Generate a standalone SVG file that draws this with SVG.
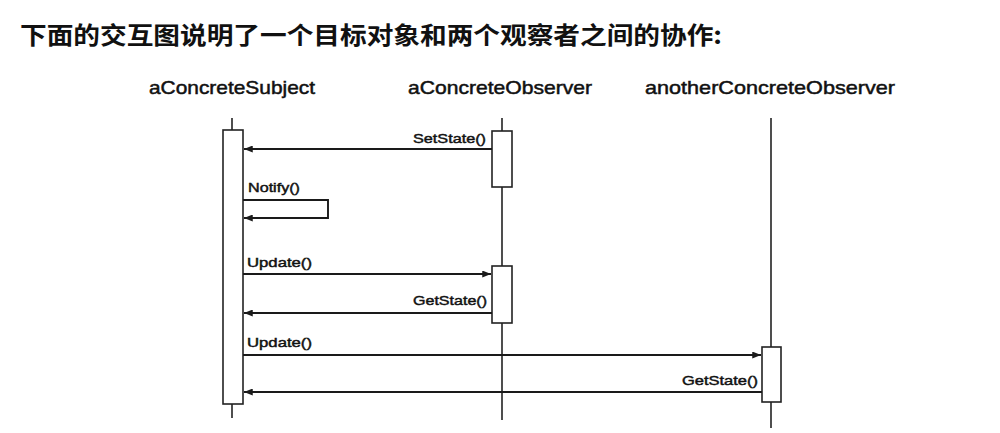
<svg xmlns="http://www.w3.org/2000/svg" width="1000" height="433" viewBox="0 0 1000 433">
<style>
.bg{fill:#fff}
.cn{font-family:"Noto Sans CJK SC","Liberation Sans",sans-serif;font-size:24px;font-weight:bold;fill:#111}
.hd{font-family:"Liberation Sans",Arial,sans-serif;font-size:19px;fill:#111;stroke:#111;stroke-width:0.5}
.lb{font-family:"Liberation Sans",Arial,sans-serif;font-size:13px;fill:#111;stroke:#111;stroke-width:0.45}
.life{stroke:#222;stroke-width:1.6;fill:none}
.act{stroke:#222;stroke-width:1.6;fill:#fff}
.msg{stroke:#1a1a1a;stroke-width:1.9;fill:none}
</style>
<defs>
<marker id="ah" viewBox="0 0 10 8" refX="10" refY="4" markerWidth="10" markerHeight="7" markerUnits="userSpaceOnUse" orient="auto">
<path d="M0,0 L10,4 L0,8 z" fill="#1a1a1a"/>
</marker>
</defs>
<rect class="bg" x="0" y="0" width="1000" height="433"/>
<text class="cn" x="20" y="44" textLength="702" lengthAdjust="spacingAndGlyphs">下面的交互图说明了一个目标对象和两个观察者之间的协作:</text>

<g id="subject">
<text class="hd" x="149" y="94" textLength="166" lengthAdjust="spacingAndGlyphs">aConcreteSubject</text>
<line class="life" x1="232" y1="118" x2="232" y2="418"/>
<rect class="act" x="223" y="130" width="20" height="274"/>
</g>

<g id="observer">
<text class="hd" x="408" y="94" textLength="184" lengthAdjust="spacingAndGlyphs">aConcreteObserver</text>
<line class="life" x1="502" y1="118" x2="502" y2="420"/>
<rect class="act" x="492" y="131" width="20" height="56"/>
<rect class="act" x="492" y="266" width="20" height="57"/>
</g>

<g id="anotherObserver">
<text class="hd" x="645" y="94" textLength="250" lengthAdjust="spacingAndGlyphs">anotherConcreteObserver</text>
<line class="life" x1="771" y1="118" x2="771" y2="428"/>
<rect class="act" x="762" y="347" width="19" height="55"/>
</g>

<g id="connectors">
<line class="msg" x1="492" y1="149" x2="244" y2="149" marker-end="url(#ah)"/>
<text class="lb" x="413" y="143" textLength="73" lengthAdjust="spacingAndGlyphs">SetState()</text>

<polyline class="msg" points="243,200 328,200 328,218 244,218" marker-end="url(#ah)"/>
<text class="lb" x="248" y="192" textLength="52" lengthAdjust="spacingAndGlyphs">Notify()</text>

<line class="msg" x1="243" y1="274" x2="491" y2="274" marker-end="url(#ah)"/>
<text class="lb" x="247" y="267" textLength="65" lengthAdjust="spacingAndGlyphs">Update()</text>

<line class="msg" x1="492" y1="313" x2="244" y2="313" marker-end="url(#ah)"/>
<text class="lb" x="413" y="305" textLength="74" lengthAdjust="spacingAndGlyphs">GetState()</text>

<line class="msg" x1="243" y1="355" x2="761" y2="355" marker-end="url(#ah)"/>
<text class="lb" x="247" y="347" textLength="65" lengthAdjust="spacingAndGlyphs">Update()</text>

<line class="msg" x1="762" y1="392" x2="244" y2="392" marker-end="url(#ah)"/>
<text class="lb" x="682" y="385" textLength="76" lengthAdjust="spacingAndGlyphs">GetState()</text>
</g>
</svg>
